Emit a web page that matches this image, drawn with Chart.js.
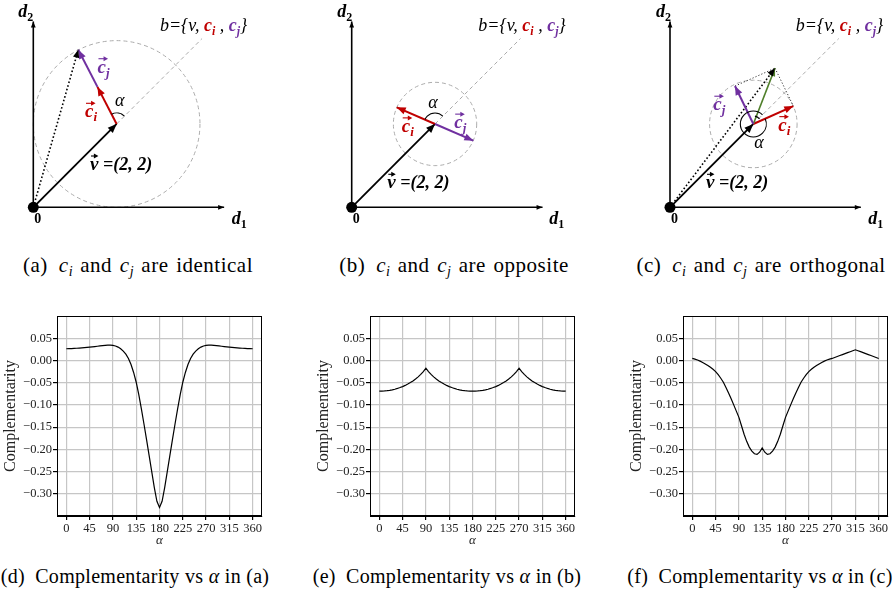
<!DOCTYPE html>
<html>
<head>
<meta charset="utf-8">
<script src="https://cdn.jsdelivr.net/npm/chart.js@4.4.1/dist/chart.umd.min.js"></script>
<style>
  body { margin: 0; background: #fff; width: 896px; height: 596px; position: relative; overflow: hidden;
         font-family: 'Liberation Serif', 'DejaVu Serif', serif; color: #000; }
  canvas { position: absolute; }
  .cap { position: absolute; font-size: 20px; line-height: 20px; white-space: nowrap; transform: translateX(-50%);
         letter-spacing: 0.3px; }
  .cap.top { font-size: 21px; line-height: 21px; letter-spacing: 0.5px; word-spacing: 2px; }
  .cap sub { font-size: 14px; line-height: 0; vertical-align: baseline; position: relative; top: 4px; letter-spacing: 0; }
</style>
</head>
<body>
<canvas id="diagA" width="300" height="240" style="left:0;top:0"></canvas>
<canvas id="diagB" width="296" height="240" style="left:300px;top:0"></canvas>
<canvas id="diagC" width="296" height="240" style="left:600px;top:0"></canvas>

<div class="cap top" style="left:138px;top:255px">(a)&ensp;<i>c</i><sub><i>i</i></sub> and <i>c</i><sub><i>j</i></sub> are identical</div>
<div class="cap top" style="left:454px;top:255px">(b)&ensp;<i>c</i><sub><i>i</i></sub> and <i>c</i><sub><i>j</i></sub> are opposite</div>
<div class="cap top" style="left:761px;top:255px">(c)&ensp;<i>c</i><sub><i>i</i></sub> and <i>c</i><sub><i>j</i></sub> are orthogonal</div>

<canvas id="complD" width="270" height="252" style="left:0;top:300px"></canvas>
<canvas id="complE" width="270" height="252" style="left:313px;top:300px"></canvas>
<canvas id="complF" width="270" height="252" style="left:626px;top:300px"></canvas>

<div class="cap" style="left:135px;top:566px">(d)&ensp;Complementarity vs <i>α</i> in (a)</div>
<div class="cap" style="left:447px;top:566px">(e)&ensp;Complementarity vs <i>α</i> in (b)</div>
<div class="cap" style="left:760px;top:566px">(f)&ensp;Complementarity vs <i>α</i> in (c)</div>

<script>
// ---- data ----
// vectors of the three sketches (units of the d1/d2 plane)
const vecV = [2, 2];
const ciIdentical = [-0.46, 0.89];
const cjIdentical = [-0.46, 0.89];
const ciOpposite = [-0.92, 0.40];
const cjOpposite = [0.92, -0.40];
const ciOrthogonal = [0.96, 0.43];
const cjOrthogonal = [-0.44, 0.91];
const ballRadius = [2, 1, 1.05];   // radius of the dashed ball in (a), (b), (c)

// complementarity curves
const alphaDeg = [0, 5, 10, 15, 20, 25, 30, 35, 40, 45, 50, 55, 60, 65, 70, 75, 80, 85, 90,
  95, 100, 105, 110, 115, 120, 125, 130, 135, 140, 145, 150, 155, 160, 165, 170, 175, 180,
  185, 190, 195, 200, 205, 210, 215, 220, 225, 230, 235, 240, 245, 250, 255, 260, 265, 270,
  275, 280, 285, 290, 295, 300, 305, 310, 315, 320, 325, 330, 335, 340, 345, 350, 355, 360];
const alphaTicks = [0, 45, 90, 135, 180, 225, 270, 315, 360];
const complTicks = [0.05, 0, -0.05, -0.10, -0.15, -0.20, -0.25, -0.30];

const complIdentical = [0.0263, 0.0265, 0.0268, 0.0271, 0.0274, 0.0278, 0.0282, 0.0287, 0.0292, 0.0298,
  0.0305, 0.0312, 0.0320, 0.0328, 0.0335, 0.0340, 0.0344, 0.0344, 0.0338, 0.0325,
  0.0300, 0.0262, 0.0210, 0.0140, 0.0045, -0.0090, -0.0270, -0.0490, -0.0770, -0.1090,
  -0.1430, -0.1780, -0.2140, -0.2500, -0.2860, -0.3170, -0.3310,
  -0.3170, -0.2860, -0.2500, -0.2140, -0.1780, -0.1430, -0.1090, -0.0770, -0.0490, -0.0270,
  -0.0090, 0.0045, 0.0140, 0.0210, 0.0262, 0.0300, 0.0325, 0.0338, 0.0344, 0.0344,
  0.0340, 0.0335, 0.0328, 0.0320, 0.0312, 0.0305, 0.0298, 0.0292, 0.0287, 0.0282,
  0.0278, 0.0274, 0.0271, 0.0268, 0.0265, 0.0263];

const complOpposite = [-0.0690, -0.0689, -0.0686, -0.0680, -0.0672, -0.0662, -0.0648, -0.0630, -0.0610, -0.0588,
  -0.0562, -0.0532, -0.0498, -0.0460, -0.0417, -0.0369, -0.0315, -0.0250, -0.0173,
  -0.0250, -0.0315, -0.0369, -0.0417, -0.0460, -0.0498, -0.0532, -0.0562, -0.0588, -0.0610,
  -0.0630, -0.0648, -0.0662, -0.0672, -0.0680, -0.0686, -0.0689, -0.0690,
  -0.0689, -0.0686, -0.0680, -0.0672, -0.0662, -0.0648, -0.0630, -0.0610, -0.0588, -0.0562,
  -0.0532, -0.0498, -0.0460, -0.0417, -0.0369, -0.0315, -0.0250, -0.0173,
  -0.0250, -0.0315, -0.0369, -0.0417, -0.0460, -0.0498, -0.0532, -0.0562, -0.0588, -0.0610,
  -0.0630, -0.0648, -0.0662, -0.0672, -0.0680, -0.0686, -0.0689, -0.0690];

const complOrthogonal = [0.0045, 0.0030, 0.0010, -0.0015, -0.0045, -0.0078, -0.0115, -0.0155, -0.0200, -0.0250,
  -0.0320, -0.0400, -0.0490, -0.0610, -0.0730, -0.0860, -0.1000, -0.1140, -0.1280, -0.1470,
  -0.1660, -0.1820, -0.1950, -0.2040, -0.2100, -0.2115, -0.2065, -0.1970, -0.2065, -0.2115,
  -0.2100, -0.2040, -0.1950, -0.1820, -0.1660, -0.1470, -0.1280,
  -0.1140, -0.1000, -0.0860, -0.0730, -0.0610, -0.0490, -0.0400, -0.0320, -0.0250, -0.0200,
  -0.0155, -0.0115, -0.0078, -0.0045, -0.0015, 0.0010, 0.0030, 0.0045,
  0.0067, 0.0088, 0.0110, 0.0132, 0.0153, 0.0175, 0.0197, 0.0218, 0.0240,
  0.0218, 0.0197, 0.0175, 0.0153, 0.0132, 0.0110, 0.0088, 0.0067, 0.0045];

// ---- styles ----
const FONT = "'Liberation Serif', 'DejaVu Serif', serif";
const RED = '#c00000';
const PURPLE = '#7030a0';
const GREEN = '#4f7f2a';
const UNIT = 125 / 3;          // px per unit in the sketches
const ORIGIN_Y = 207.3;        // px of the origin inside each sketch canvas

const add = (a, b) => [a[0] + b[0], a[1] + b[1]];

// segment dataset for the sketches
function seg(a, b, style) {
    return Object.assign({
        data: [{x: a[0], y: a[1]}, {x: b[0], y: b[1]}],
        showLine: true,
        pointRadius: 0,
        borderColor: '#000',
        borderWidth: 1.8,
        fill: false
    }, style);
}

function drawVecLabel(ctx, x, y, letter, sub, color) {
    ctx.fillStyle = color;
    ctx.strokeStyle = color;
    ctx.font = `bold italic 19px ${FONT}`;
    ctx.fillText(letter, x, y);
    const w = ctx.measureText(letter).width;
    let ws = 0;
    if (sub) {
        ctx.font = `bold italic 13px ${FONT}`;
        ctx.fillText(sub, x + w, y + 4);
        ws = ctx.measureText(sub).width;
    }
    const ay = y - 14, x1 = x + w + ws * 0.6;
    ctx.lineWidth = 1.1;
    ctx.beginPath();
    ctx.moveTo(x + 1, ay);
    ctx.lineTo(x1 - 2, ay);
    ctx.stroke();
    ctx.beginPath();
    ctx.moveTo(x1, ay);
    ctx.lineTo(x1 - 4.5, ay - 2.5);
    ctx.lineTo(x1 - 4.5, ay + 2.5);
    ctx.closePath();
    ctx.fill();
}

function drawRuns(ctx, x, y, runs) {
    let cx = x;
    runs.forEach(([t, f, c, dy]) => {
        ctx.font = f;
        ctx.fillStyle = c;
        ctx.fillText(t, cx, y + (dy || 0));
        cx += ctx.measureText(t).width;
    });
}

// circles, arrowheads, angle marks and labels of the sketches
const sketchDecor = {
    id: 'sketchDecor',
    beforeDatasetsDraw(chart, args, opts) {
        const {ctx, scales: {x, y}} = chart;
        const r = opts.radius * (x.getPixelForValue(1) - x.getPixelForValue(0));
        ctx.save();
        ctx.strokeStyle = '#ababab';
        ctx.lineWidth = 1;
        ctx.setLineDash([4, 3]);
        ctx.beginPath();
        ctx.arc(x.getPixelForValue(vecV[0]), y.getPixelForValue(vecV[1]), r, 0, Math.PI * 2);
        ctx.stroke();
        ctx.restore();
    },
    afterDatasetsDraw(chart, args, opts) {
        const {ctx, scales: {x, y}} = chart;
        ctx.save();
        chart.data.datasets.forEach((ds, i) => {
            if (!ds.arrow) return;
            const pts = chart.getDatasetMeta(i).data;
            const a = pts[pts.length - 2], b = pts[pts.length - 1];
            const ang = Math.atan2(b.y - a.y, b.x - a.x);
            const L = ds.arrow, hw = ds.arrow * 0.4;
            const bx = b.x - L * Math.cos(ang), by = b.y - L * Math.sin(ang);
            ctx.fillStyle = ds.headColor || ds.borderColor;
            ctx.beginPath();
            ctx.moveTo(b.x, b.y);
            ctx.lineTo(bx + hw * Math.sin(ang), by - hw * Math.cos(ang));
            ctx.lineTo(bx - hw * Math.sin(ang), by + hw * Math.cos(ang));
            ctx.closePath();
            ctx.fill();
        });

        // angle alpha
        const cx = x.getPixelForValue(vecV[0]), cy = y.getPixelForValue(vecV[1]);
        const a0 = Math.PI / 4;
        let a1 = Math.atan2(opts.ci[1], opts.ci[0]);
        if (a1 < a0) a1 += Math.PI * 2;
        ctx.strokeStyle = '#000';
        ctx.lineWidth = 1.1;
        ctx.beginPath();
        ctx.arc(cx, cy, opts.alphaR, -a0, -a1, true);
        ctx.stroke();
        if (opts.rightMark) {
            const b1 = Math.atan2(opts.ci[1], opts.ci[0]);
            ctx.beginPath();
            ctx.arc(cx, cy, 8, -b1 - 0.25, -b1 - 0.95, true);
            ctx.stroke();
        }

        // origin dot
        ctx.fillStyle = '#000';
        ctx.beginPath();
        ctx.arc(x.getPixelForValue(0), y.getPixelForValue(0), 5.5, 0, Math.PI * 2);
        ctx.fill();
        ctx.restore();
    },
    afterDraw(chart, args, opts) {
        const {ctx, scales: {x, y}} = chart;
        const P = p => [x.getPixelForValue(p[0]), y.getPixelForValue(p[1])];
        const L = opts.labels;
        ctx.save();
        ctx.textBaseline = 'alphabetic';
        ctx.textAlign = 'left';
        let p = P(L.d2);
        drawRuns(ctx, p[0], p[1], [['d', `bold italic 18px ${FONT}`, '#000'], ['2', `bold 12px ${FONT}`, '#000', 4]]);
        p = P(L.d1);
        drawRuns(ctx, p[0], p[1], [['d', `bold italic 18px ${FONT}`, '#000'], ['1', `bold 12px ${FONT}`, '#000', 4]]);
        p = P(L.zero);
        drawRuns(ctx, p[0] - 4, p[1], [['0', `bold 14px ${FONT}`, '#000']]);
        p = P(L.b);
        const it = `italic 18px ${FONT}`;
        drawRuns(ctx, p[0], p[1], [
            ['b={v, ', it, '#000'], ['c', `bold italic 18px ${FONT}`, RED], ['i', `bold italic 12px ${FONT}`, RED, 4],
            [' , ', it, '#000'], ['c', `bold italic 18px ${FONT}`, PURPLE], ['j', `bold italic 12px ${FONT}`, PURPLE, 4],
            ['}', it, '#000']
        ]);
        p = P(L.v);
        drawVecLabel(ctx, p[0], p[1], 'v', '', '#000');
        ctx.font = `bold italic 19px ${FONT}`;
        const wv = ctx.measureText('v').width;
        drawRuns(ctx, p[0] + wv, p[1], [[' =(2, 2)', `bold italic 18px ${FONT}`, '#000']]);
        p = P(L.ci);
        drawVecLabel(ctx, p[0], p[1], 'c', 'i', RED);
        p = P(L.cj);
        drawVecLabel(ctx, p[0], p[1], 'c', 'j', PURPLE);
        p = P(L.alpha);
        drawRuns(ctx, p[0], p[1], [['α', `italic 18px ${FONT}`, '#000']]);
        ctx.restore();
    }
};

function buildSketch(canvasId, originX, mode, ci, cj, radius, labels) {
    const canvas = document.getElementById(canvasId);
    const W = canvas.width, H = canvas.height;
    const ciTip = add(vecV, ci);
    const datasets = [];

    if (mode === 'stack') {
        const cjTip = add(ciTip, cj);
        datasets.push(seg(ciTip, cjTip, {borderColor: PURPLE, borderWidth: 2, arrow: 9}));
        datasets.push(seg([0, 0], cjTip, {borderWidth: 1.6, borderDash: [1.6, 2.2], arrow: 8, headColor: '#000'}));
    } else if (mode === 'opposite') {
        datasets.push(seg(vecV, add(vecV, cj), {borderColor: PURPLE, borderWidth: 2, arrow: 9}));
    } else {
        const cjTip = add(vecV, cj);
        const sumTip = add(ciTip, cj);
        datasets.push(seg(vecV, cjTip, {borderColor: PURPLE, borderWidth: 2, arrow: 9}));
        datasets.push(seg(vecV, sumTip, {borderColor: GREEN, borderWidth: 1.6, arrow: 8}));
        datasets.push(seg([0, 0], sumTip, {borderWidth: 1.6, borderDash: [1.6, 2.2], arrow: 8, headColor: '#000'}));
        datasets.push(seg(cjTip, sumTip, {borderWidth: 1, borderDash: [1.2, 2], borderColor: '#333'}));
        datasets.push(seg(sumTip, ciTip, {borderWidth: 1, borderDash: [1.2, 2], borderColor: '#333'}));
    }
    datasets.push(seg(vecV, ciTip, {borderColor: RED, borderWidth: 2, arrow: 9}));
    datasets.push(seg([0, 0], vecV, {borderWidth: 1.8, arrow: 9}));
    datasets.push(seg([0, 0], [4.58, 0], {borderWidth: 1.6, arrow: 6}));
    datasets.push(seg([0, 0], [0, 4.46], {borderWidth: 1.6, arrow: 6}));
    datasets.push(seg(vecV, [4.05, 4.05], {borderWidth: 1, borderColor: '#ababab', borderDash: [4, 3]}));

    return new Chart(canvas, {
        type: 'scatter',
        data: {datasets},
        options: {
            animation: false,
            responsive: false,
            layout: {padding: 0},
            scales: {
                x: {type: 'linear', display: false, min: -originX / UNIT, max: (W - originX) / UNIT},
                y: {type: 'linear', display: false, min: -(H - ORIGIN_Y) / UNIT, max: ORIGIN_Y / UNIT}
            },
            plugins: {
                legend: {display: false},
                tooltip: {enabled: false},
                sketchDecor: {
                    radius, ci, labels,
                    alphaR: mode === 'ortho' ? 13 : 11,
                    rightMark: mode === 'ortho'
                }
            }
        },
        plugins: [sketchDecor]
    });
}

buildSketch('diagA', 33.3, 'stack', ciIdentical, cjIdentical, ballRadius[0], {
    d2: [-0.36, 4.56], d1: [4.76, -0.40], zero: [0.12, -0.37], b: [3.04, 4.24],
    v: [1.36, 0.895], ci: [1.24, 2.16], cj: [1.54, 3.23], alpha: [1.96, 2.43]
});
buildSketch('diagB', 51.7, 'opposite', ciOpposite, cjOpposite, ballRadius[1], {
    d2: [-0.345, 4.56], d1: [4.74, -0.40], zero: [0.12, -0.37], b: [3.04, 4.24],
    v: [0.855, 0.456], ci: [1.2, 1.81], cj: [2.46, 1.90], alpha: [1.84, 2.38]
});
buildSketch('diagC', 70, 'ortho', ciOrthogonal, cjOrthogonal, ballRadius[2], {
    d2: [-0.336, 4.56], d1: [4.76, -0.40], zero: [0.12, -0.37], b: [3.02, 4.24],
    v: [0.864, 0.456], ci: [2.6, 1.84], cj: [1.04, 2.33], alpha: [2.02, 1.42]
});

// ---- complementarity plots ----
const frameBox = {
    id: 'frameBox',
    afterDatasetsDraw(chart) {
        const {ctx, chartArea: a} = chart;
        ctx.save();
        ctx.strokeStyle = '#000';
        ctx.lineWidth = 1;
        ctx.strokeRect(Math.round(a.left) + 0.5, Math.round(a.top) + 0.5,
            Math.round(a.right - a.left) - 1, Math.round(a.bottom - a.top) - 1);
        ctx.restore();
    }
};

const fmtCompl = v => (Math.abs(v) < 1e-9 ? '0.00' : v.toFixed(2)).replace('-', '\u2212');

function buildCompl(canvasId, values) {
    return new Chart(document.getElementById(canvasId), {
        type: 'line',
        data: {
            datasets: [{
                data: alphaDeg.map((a, i) => ({x: a, y: values[i]})),
                borderColor: '#000',
                borderWidth: 1.2,
                pointRadius: 0,
                tension: 0,
                fill: false
            }]
        },
        options: {
            animation: false,
            responsive: false,
            layout: {padding: {top: 16, right: 8, left: 0, bottom: 0}},
            plugins: {legend: {display: false}, tooltip: {enabled: false}},
            scales: {
                x: {
                    type: 'linear',
                    min: -18,
                    max: 378,
                    afterBuildTicks: s => { s.ticks = alphaTicks.map(v => ({value: v})); },
                    afterFit: s => { s.height = 36; },
                    ticks: {autoSkip: false, maxRotation: 0, padding: 1, color: '#222',
                        font: {family: FONT, size: 12.5}},
                    grid: {color: '#c6c6c6', lineWidth: 1.2, tickColor: '#000', tickLength: 4},
                    border: {display: true, color: '#000', width: 1},
                    title: {display: true, text: 'α', color: '#222', padding: {top: 0, bottom: 4},
                        font: {family: FONT, size: 13, style: 'italic'}}
                },
                y: {
                    type: 'linear',
                    min: -0.35,
                    max: 0.10,
                    afterBuildTicks: s => { s.ticks = complTicks.map(v => ({value: v})); },
                    afterFit: s => { s.width = 57; },
                    ticks: {autoSkip: false, padding: 1, color: '#222', callback: v => fmtCompl(v),
                        font: {family: FONT, size: 12.5}},
                    grid: {color: '#c6c6c6', lineWidth: 1.2, tickColor: '#000', tickLength: 4},
                    border: {display: true, color: '#000', width: 1},
                    title: {display: true, text: 'Complementarity', color: '#222', padding: {top: 1.5, bottom: 0},
                        font: {family: FONT, size: 16}}
                }
            }
        },
        plugins: [frameBox]
    });
}

buildCompl('complD', complIdentical);
buildCompl('complE', complOpposite);
buildCompl('complF', complOrthogonal);
</script>
</body>
</html>
